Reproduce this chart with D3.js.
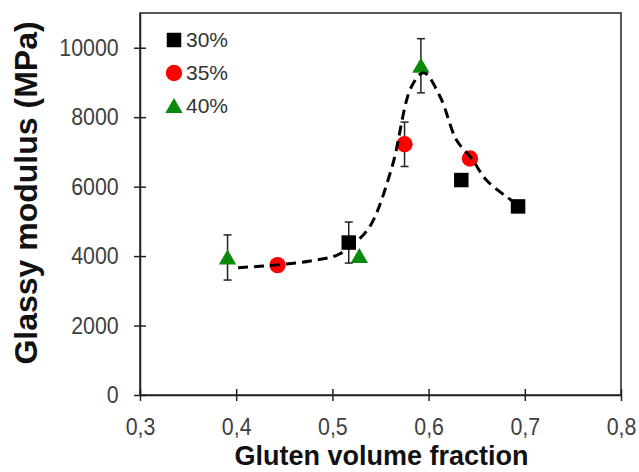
<!DOCTYPE html>
<html>
<head>
<meta charset="utf-8">
<script src="https://cdn.jsdelivr.net/npm/d3@7"></script>
<style>
  body { margin: 0; background: #fff; }
  text { font-family: Arial, "Liberation Sans", sans-serif; }
</style>
</head>
<body>
<div id="wrapper"></div>
<script>
// series
const seriesNames = ['30%', '35%', '40%'];
const seriesColors = ['#000000', '#ff0000', '#0a8a0a'];
const seriesShapes = ['square', 'circle', 'triangle'];

const x30 = [0.517, 0.634, 0.693];
const y30 = [4390, 6190, 5430];
const e30 = [590, 0, 150];

const x35 = [0.443, 0.575, 0.643];
const y35 = [3740, 7220, 6810];
const e35 = [0, 640, 0];

const x40 = [0.391, 0.528, 0.592];
const y40 = [3960, 4000, 9480];
const e40 = [650, 0, 780];

// dashed trend line
const curveX = [0.402, 0.44, 0.477, 0.505, 0.525, 0.54, 0.562, 0.582, 0.595, 0.612, 0.629, 0.645, 0.66, 0.681, 0.697];
const curveY = [3665, 3740, 3860, 4030, 4420, 4900, 6570, 8870, 9280, 8590, 7340, 6800, 6190, 5710, 5400];

const xTicks = [0.3, 0.4, 0.5, 0.6, 0.7, 0.8];
const yTicks = [0, 2000, 4000, 6000, 8000, 10000];

function drawChart() {
	const dimensions = {
		width: 639,
		height: 472,
		margin: { top: 13, right: 18, bottom: 77, left: 140 },
	}
	dimensions.boundedWidth = dimensions.width - dimensions.margin.left - dimensions.margin.right;
	dimensions.boundedHeight = dimensions.height - dimensions.margin.top - dimensions.margin.bottom;

	const svg = d3.select('#wrapper')
		.append('svg')
		.attr('width', dimensions.width)
		.attr('height', dimensions.height)

	const bounds = svg.append('g')
		.attr('transform', `translate(${dimensions.margin.left},${dimensions.margin.top})`)

	const xScale = d3.scaleLinear()
		.domain([0.3, 0.8])
		.range([0, dimensions.boundedWidth])

	const yScale = d3.scaleLinear()
		.domain([0, 11000])
		.range([dimensions.boundedHeight, 0])

	// frame
	bounds.append('rect')
		.attr('width', dimensions.boundedWidth)
		.attr('height', dimensions.boundedHeight)
		.attr('fill', 'none')
		.attr('stroke', '#222')
		.attr('stroke-width', 1.5)

	const fmt = d => d.toFixed(1).replace('.', ',')

	const xAxis = bounds.append('g')
		.attr('transform', `translate(0,${dimensions.boundedHeight})`)
		.call(d3.axisBottom(xScale).tickValues(xTicks).tickFormat(fmt).tickSizeInner(6).tickSizeOuter(0).tickPadding(17))
	xAxis.selectAll('.tick line').attr('y1', -6)

	const yAxis = bounds.append('g')
		.call(d3.axisLeft(yScale).tickValues(yTicks).tickFormat(d => d).tickSizeInner(6).tickSizeOuter(0).tickPadding(18))
	yAxis.selectAll('.tick line').attr('x1', 6)

	;[xAxis, yAxis].forEach(ax => {
		ax.select('.domain').attr('stroke', '#222').attr('stroke-width', 1.5)
		ax.selectAll('.tick line').attr('stroke', '#222').attr('stroke-width', 1.5)
		ax.selectAll('.tick text')
			.attr('fill', '#404040')
			.attr('transform', 'scale(0.89,1)')
			.style('font-size', '24px')
			.style('font-family', 'Arial, "Liberation Sans", sans-serif')
	})

	// axis titles
	svg.append('text')
		.text('Gluten volume fraction')
		.attr('x', dimensions.margin.left + dimensions.boundedWidth / 2 + 1)
		.attr('y', 465)
		.attr('text-anchor', 'middle')
		.attr('fill', '#111')
		.style('font-size', '27px')
		.style('font-weight', 'bold')

	svg.append('text')
		.text('Glassy modulus (MPa)')
		.attr('transform', 'translate(37,193) rotate(-90)')
		.attr('text-anchor', 'middle')
		.attr('fill', '#111')
		.style('font-size', '32px')
		.style('font-weight', 'bold')

	const series = [
		{ xs: x30, ys: y30, es: e30 },
		{ xs: x35, ys: y35, es: e35 },
		{ xs: x40, ys: y40, es: e40 },
	].map((s, i) => ({
		name: seriesNames[i],
		color: seriesColors[i],
		shape: seriesShapes[i],
		points: s.xs.map((x, j) => ({ x, y: s.ys[j], e: s.es[j] })),
	}))

	const symbolFor = shape => ({
		square: d3.symbol(d3.symbolSquare, 210),
		circle: d3.symbol(d3.symbolCircle, 210),
		triangle: d3.symbol(d3.symbolTriangle, 130),
	})[shape]

	// error bars
	const errGroup = bounds.append('g')
	series.forEach(s => {
		const withErr = s.points.filter(p => p.e > 0)
		const g = errGroup.selectAll(null).data(withErr).enter().append('g')
			.attr('stroke', '#222').attr('stroke-width', 1.5)
		g.append('line')
			.attr('x1', d => xScale(d.x)).attr('x2', d => xScale(d.x))
			.attr('y1', d => yScale(d.y + d.e)).attr('y2', d => yScale(d.y - d.e))
		g.append('line')
			.attr('x1', d => xScale(d.x) - 4).attr('x2', d => xScale(d.x) + 4)
			.attr('y1', d => yScale(d.y + d.e)).attr('y2', d => yScale(d.y + d.e))
		g.append('line')
			.attr('x1', d => xScale(d.x) - 4).attr('x2', d => xScale(d.x) + 4)
			.attr('y1', d => yScale(d.y - d.e)).attr('y2', d => yScale(d.y - d.e))
	})

	// markers
	series.forEach(s => {
		bounds.append('g').selectAll('path')
			.data(s.points)
			.enter().append('path')
			.attr('d', symbolFor(s.shape))
			.attr('transform', d => `translate(${xScale(d.x)},${yScale(d.y) + (s.shape === 'triangle' ? 2 : 0)})`)
			.attr('fill', s.color)
	})

	// dashed trend line
	const lineGen = d3.line()
		.x(d => xScale(d[0]))
		.y(d => yScale(d[1]))
		.curve(d3.curveCatmullRom.alpha(0.5))

	bounds.append('path')
		.datum(curveX.map((x, i) => [x, curveY[i]]))
		.attr('d', lineGen)
		.attr('fill', 'none')
		.attr('stroke', '#000')
		.attr('stroke-width', 3)
		.attr('stroke-dasharray', '10 6')

	// legend
	const legend = svg.append('g')
		.attr('transform', 'translate(174,40)')
	const legendItems = legend.selectAll('g')
		.data(series)
		.enter().append('g')
		.attr('transform', (d, i) => `translate(0,${i * 33})`)
	legendItems.append('path')
		.attr('d', d => symbolFor(d.shape)())
		.attr('transform', d => `translate(0,${d.shape === 'triangle' ? 2 : 0})`)
		.attr('fill', d => d.color)
	legendItems.append('text')
		.text(d => d.name)
		.attr('x', 12)
		.attr('y', 7)
		.attr('fill', '#333')
		.style('font-size', '21px')
}

drawChart();
</script>
</body>
</html>
